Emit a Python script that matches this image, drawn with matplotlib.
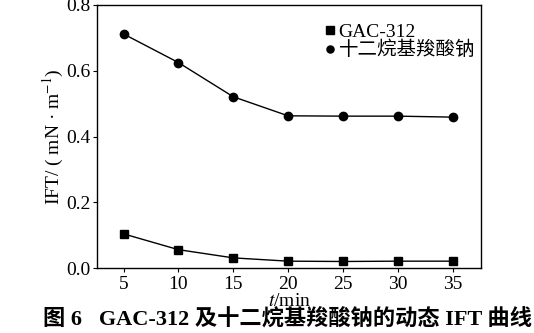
import matplotlib.pyplot as plt

plt.rcParams['font.family'] = ['Liberation Serif', 'Noto Sans CJK SC']
plt.rcParams['mathtext.fontset'] = 'stix'

# dynamic interfacial tension data
t_min = [5, 10, 15, 20, 25, 30, 35]
ift_gac = [0.104, 0.056, 0.031, 0.021, 0.020, 0.021, 0.021]
ift_carboxylate = [0.712, 0.625, 0.521, 0.463, 0.462, 0.462, 0.459]
labels = ['GAC-312', '十二烷基羧酸钠']

fig = plt.figure(figsize=(5.34, 3.33), dpi=100)
ax = fig.add_axes([0.182, 0.195, 0.719, 0.79])

ax.plot(t_min, ift_gac, color='black', lw=1, marker='s', ms=6, label=labels[0])
ax.plot(t_min, ift_carboxylate, color='black', lw=1, marker='o', ms=6, label=labels[1])

ax.set_xlim(2.6, 37.6)
ax.set_ylim(0, 0.8)
ax.set_xticks(t_min)
ax.set_yticks([0.0, 0.2, 0.4, 0.6, 0.8])
ax.set_yticklabels(['0.0', '0.2', '0.4', '0.6', '0.8'])
ax.tick_params(direction='out', length=3, width=0.8, labelsize=14, pad=2)
ax.tick_params(axis='x', pad=3)
for s in ax.spines.values():
    s.set_linewidth(1)

ax.set_xlabel('$t$/min', fontsize=14, labelpad=0)
ax.set_ylabel('IFT/ ( mN · m$^{-1}$)', fontsize=14, labelpad=0)

leg = ax.legend(loc='upper right', bbox_to_anchor=(1.015, 0.975), frameon=False,
                fontsize=14, handlelength=0.45, handletextpad=0.2,
                labelspacing=0.0, borderaxespad=0.2, markerscale=0.85)
for h in leg.legend_handles:
    h.set_linestyle('none')

fig.text(0.08, 0.038, '图 6   GAC-312 及十二烷基羧酸钠的动态 IFT 曲线',
         fontsize=16, fontweight='bold', ha='left', va='center')

fig.savefig('out.png', dpi=100)
